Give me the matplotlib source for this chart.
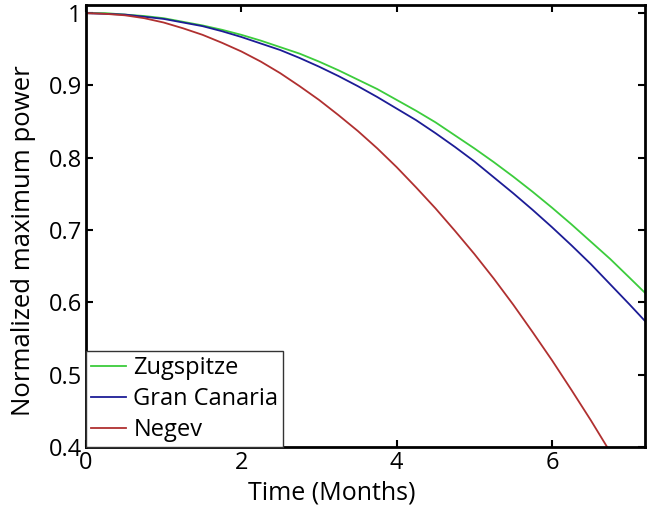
import matplotlib
matplotlib.use('Agg')
import matplotlib.pyplot as plt

# Veri
time_months = [0, 0.25, 0.5, 0.75, 1.0, 1.25, 1.5, 1.75, 2.0, 2.25, 2.5, 2.75,
               3.0, 3.25, 3.5, 3.75, 4.0, 4.25, 4.5, 4.75, 5.0, 5.25, 5.5, 5.75,
               6.0, 6.25, 6.5, 6.75, 7.0, 7.2]
zugspitze = [1.000, 1.000, 0.998, 0.996, 0.993, 0.988, 0.983, 0.977, 0.970, 0.962,
             0.953, 0.944, 0.933, 0.921, 0.908, 0.895, 0.880, 0.865, 0.849, 0.831,
             0.813, 0.794, 0.774, 0.753, 0.731, 0.708, 0.684, 0.660, 0.634, 0.613]
gran_canaria = [1.000, 0.999, 0.998, 0.995, 0.992, 0.987, 0.982, 0.975, 0.967, 0.958,
                0.949, 0.938, 0.926, 0.913, 0.899, 0.884, 0.868, 0.852, 0.834, 0.815,
                0.795, 0.773, 0.751, 0.728, 0.704, 0.679, 0.653, 0.625, 0.597, 0.574]
negev = [1.000, 0.999, 0.997, 0.993, 0.987, 0.979, 0.970, 0.959, 0.947, 0.933,
         0.917, 0.899, 0.880, 0.859, 0.837, 0.813, 0.787, 0.759, 0.730, 0.699,
         0.667, 0.633, 0.597, 0.559, 0.520, 0.479, 0.437, 0.393, 0.347, 0.309]

x_ticks = [0, 2, 4, 6]
y_ticks = [0.4, 0.5, 0.6, 0.7, 0.8, 0.9, 1.0]
y_ticklabels = ['0.4', '0.5', '0.6', '0.7', '0.8', '0.9', '1']

plt.rcParams['font.family'] = ['Open Sans', 'DejaVu Sans']
fs = 17

fig = plt.figure(figsize=(6.57, 5.18), dpi=100)
ax = fig.add_axes([0.131, 0.137, 0.851, 0.853])

ax.plot(time_months, zugspitze, color='#3ccc3c', linewidth=1.3, label='Zugspitze')
ax.plot(time_months, gran_canaria, color='#1c1c96', linewidth=1.3, label='Gran Canaria')
ax.plot(time_months, negev, color='#b03030', linewidth=1.3, label='Negev')

ax.set_xlim(0, 7.2)
ax.set_ylim(0.4, 1.011)
ax.set_xticks(x_ticks)
ax.set_yticks(y_ticks)
ax.set_yticklabels(y_ticklabels)
ax.tick_params(direction='in', top=True, right=True, length=5, width=1.5,
               labelsize=fs, pad=3)
for s in ax.spines.values():
    s.set_linewidth(2)

ax.set_xlabel('Time (Months)', fontsize=18)
ax.set_ylabel('Normalized maximum power', fontsize=18.5)
ax.xaxis.set_label_coords(0.44, -0.075)
ax.yaxis.set_label_coords(-0.09, 0.468)

leg = ax.legend(loc='lower left', borderaxespad=0, fontsize=fs, fancybox=False,
                handlelength=1.5, handletextpad=0.3, labelspacing=0.3,
                borderpad=0.2, framealpha=1)
leg.get_frame().set_edgecolor('#333333')
leg.get_frame().set_linewidth(1)

plt.savefig('out.png', dpi=100)
